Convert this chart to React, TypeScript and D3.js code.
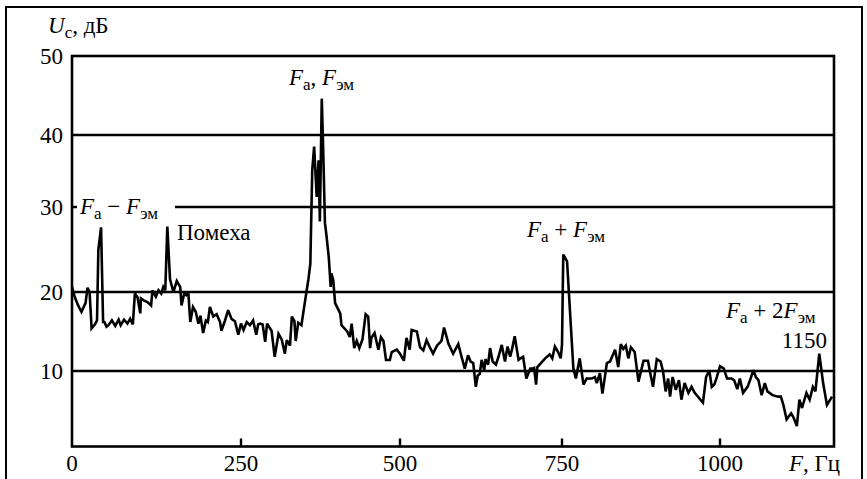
import React from "react";
import * as d3 from "d3";

const freqHz = [
  0, 4, 9, 14, 20, 23, 26, 29, 34, 37, 39, 43, 46, 48, 51, 54, 59, 64, 69, 72, 77, 82, 86, 90, 93, 97, 101, 102, 107, 112, 117, 119, 124, 128, 132, 135, 138, 141, 145, 150, 155, 160, 162, 166, 169, 172, 175, 179, 183, 187, 190, 194, 198, 201, 204, 209, 214, 219, 221, 226, 231, 236, 241, 246, 250, 254, 259, 264, 269, 274, 277, 280, 284, 288, 291, 298, 303, 309, 314, 319, 322, 327, 330, 334, 336, 340, 345, 351, 356, 359, 362, 365, 369, 372, 374, 377, 379, 382, 384, 388, 391, 392, 395, 398, 406, 408, 417, 421, 424, 428, 432, 436, 441, 446, 450, 453, 455, 460, 466, 470, 474, 478, 484, 487, 495, 500, 506, 510, 515, 518, 526, 531, 536, 541, 546, 551, 557, 564, 568, 575, 582, 590, 595, 600, 605, 609, 613, 617, 620, 623, 626, 630, 632, 636, 639, 643, 648, 652, 657, 662, 666, 670, 673, 677, 683, 686, 690, 695, 701, 704, 707, 710, 712, 724, 731, 735, 739, 744, 748, 750, 752, 758, 768, 772, 778, 784, 789, 797, 802, 805, 810, 814, 821, 826, 834, 839, 843, 847, 851, 855, 859, 865, 871, 879, 886, 889, 894, 900, 906, 910, 914, 918, 921, 925, 930, 935, 939, 944, 950, 955, 960, 973, 978, 983, 987, 991, 995, 1000, 1006, 1011, 1018, 1022, 1027, 1031, 1036, 1043, 1047, 1052, 1056, 1060, 1065, 1070, 1074, 1082, 1091, 1095, 1099, 1104, 1111, 1115, 1120, 1124, 1128, 1135, 1140, 1145, 1149, 1155, 1161, 1167, 1175,
];

const levelDb = [
  20.6, 19.4, 18.3, 17.5, 18.6, 20.5, 20.0, 15.4, 15.9, 16.4, 25.0, 27.6, 16.2, 16.2, 15.6, 15.8, 16.4, 15.7, 16.5, 15.8, 16.5, 16.0, 16.6, 15.9, 19.8, 19.3, 17.3, 19.2, 18.9, 18.7, 18.3, 20.2, 19.4, 20.2, 19.8, 20.6, 20.2, 27.7, 21.5, 20.0, 21.3, 20.6, 18.3, 19.8, 19.6, 20.0, 16.2, 18.1, 17.5, 16.0, 17.0, 14.8, 16.4, 16.2, 18.1, 16.9, 17.2, 16.2, 15.1, 16.3, 17.7, 16.6, 16.3, 14.6, 16.0, 15.2, 16.2, 15.8, 16.4, 14.6, 15.9, 16.0, 15.9, 13.7, 16.0, 15.1, 11.8, 14.7, 14.0, 12.2, 13.9, 13.2, 16.9, 16.3, 13.8, 16.1, 15.8, 19.0, 21.5, 23.3, 35.1, 38.4, 31.4, 36.5, 28.3, 44.6, 38.8, 28.1, 26.9, 24.1, 20.6, 22.2, 21.4, 18.6, 17.3, 15.8, 15.0, 14.3, 16.0, 12.9, 13.8, 12.9, 14.0, 17.2, 16.9, 12.9, 14.2, 14.8, 12.7, 14.3, 13.8, 11.4, 11.4, 12.4, 12.7, 12.2, 11.3, 14.2, 12.7, 15.2, 15.0, 13.0, 12.6, 13.9, 13.0, 12.2, 13.2, 13.8, 15.5, 13.4, 12.2, 13.4, 11.8, 10.3, 12.0, 11.2, 11.0, 7.9, 9.4, 9.6, 11.4, 10.1, 11.5, 10.8, 12.9, 11.2, 10.8, 11.8, 13.3, 11.2, 13.1, 11.8, 12.8, 14.4, 11.4, 11.6, 11.8, 9.0, 10.3, 10.3, 10.4, 8.2, 10.5, 11.6, 12.1, 11.6, 13.1, 12.4, 11.6, 13.3, 24.4, 23.6, 10.3, 9.0, 11.6, 8.2, 9.0, 9.0, 9.2, 8.4, 9.7, 7.0, 11.0, 11.2, 12.7, 10.5, 13.4, 12.8, 13.2, 11.6, 13.0, 12.4, 8.6, 11.3, 11.3, 10.0, 7.9, 11.5, 11.2, 9.9, 7.3, 9.0, 6.6, 9.2, 7.5, 8.8, 6.2, 8.4, 7.1, 7.9, 7.1, 5.8, 9.2, 10.1, 7.9, 8.2, 9.2, 10.6, 10.3, 9.0, 9.0, 8.8, 7.6, 9.0, 7.1, 7.9, 8.8, 10.1, 9.2, 8.8, 6.8, 8.4, 7.3, 6.8, 6.6, 6.6, 5.5, 3.6, 4.4, 3.8, 2.7, 6.2, 5.1, 7.1, 6.2, 7.9, 7.3, 12.2, 8.4, 5.5, 6.6,
];

const xTicks = [0, 250, 500, 750, 1000];
const yTicks = [10, 20, 30, 40, 50];
const gridValues = [10, 20, 30, 40];

const FONT = "'Liberation Serif', 'Times New Roman', serif";
const FS = 23;
const SUB = 17;

type Part = { t: string; i?: boolean; sub?: boolean };

const Label = ({ x, y, parts, anchor = "start" }: { x: number; y: number; parts: Part[]; anchor?: string }) => {
  const spans: React.ReactNode[] = [];
  let inSub = false;
  parts.forEach((p, k) => {
    let dy = 0;
    if (p.sub && !inSub) { dy = 5; inSub = true; }
    else if (!p.sub && inSub) { dy = -5; inSub = false; }
    spans.push(
      <tspan key={k} dy={dy || undefined} fontStyle={p.i ? "italic" : "normal"} fontSize={p.sub ? SUB : FS}>
        {p.t}
      </tspan>
    );
  });
  return (
    <text x={x} y={y} textAnchor={anchor as any} fontFamily={FONT} fontSize={FS} fill="#000" style={{ whiteSpace: "pre" }}>
      {spans}
    </text>
  );
};

export default function App() {
  const W = 867;
  const H = 479;
  const x = d3.scaleLinear().domain([0, 250, 500, 750, 1000, 1178]).range([72, 241, 400, 562, 720, 834]);
  const y = d3.scaleLinear().domain([0, 10, 20, 30, 40, 50]).range([446.5, 371, 292, 207, 135, 56]);
  const x0 = x(0), x1 = x(1178), yTop = y(50), yBot = y(0);

  const line = d3
    .line<number>()
    .x((_, i) => x(freqHz[i]))
    .y((d) => y(d))
    .curve(d3.curveLinear);

  return (
    <svg width={W} height={H} style={{ position: "absolute", left: 0, top: 0, background: "#fff" }}>
      <rect x={6} y={7} width={856} height={490} fill="none" stroke="#000" strokeWidth={2} />
      {gridValues.map((v) => (
        <line key={v} x1={x0} x2={x1} y1={y(v)} y2={y(v)} stroke="#000" strokeWidth={2.4} />
      ))}
      <rect x={x0} y={yTop} width={x1 - x0} height={yBot - yTop} fill="none" stroke="#000" strokeWidth={2.6} />
      {xTicks.slice(1).map((t) => (
        <line key={t} x1={x(t)} x2={x(t)} y1={yBot} y2={yBot - 8} stroke="#000" strokeWidth={2.4} />
      ))}
      <path d={line(levelDb) || ""} fill="none" stroke="#000" strokeWidth={2.6} strokeLinejoin="miter" strokeMiterlimit={3} />
      {yTicks.map((t) => (
        <text key={t} x={63} y={y(t) + 8} textAnchor="end" fontFamily={FONT} fontSize={FS}>
          {t}
        </text>
      ))}
      {xTicks.map((t) => (
        <text key={t} x={x(t)} y={471} textAnchor="middle" fontFamily={FONT} fontSize={FS}>
          {t}
        </text>
      ))}
      <Label x={789} y={471} parts={[{ t: "F", i: true }, { t: ", Гц" }]} />
      <Label x={48} y={33} parts={[{ t: "U", i: true }, { t: "с", sub: true }, { t: ", дБ" }]} />
      <rect x={77} y={193} width={98} height={27} fill="#fff" />
      <Label x={80} y={214} parts={[{ t: "F", i: true }, { t: "а", sub: true }, { t: " − " }, { t: "F", i: true }, { t: "эм", sub: true }]} />
      <Label x={177} y={240} parts={[{ t: "Помеха" }]} />
      <Label x={289} y={85} parts={[{ t: "F", i: true }, { t: "а", sub: true }, { t: ", " }, { t: "F", i: true }, { t: "эм", sub: true }]} />
      <Label x={527} y={237} parts={[{ t: "F", i: true }, { t: "а", sub: true }, { t: " + " }, { t: "F", i: true }, { t: "эм", sub: true }]} />
      <Label x={726} y={318} parts={[{ t: "F", i: true }, { t: "а", sub: true }, { t: " + 2" }, { t: "F", i: true }, { t: "эм", sub: true }]} />
      <text x={827} y={348} textAnchor="end" fontFamily={FONT} fontSize={FS}>1150</text>
    </svg>
  );
}
